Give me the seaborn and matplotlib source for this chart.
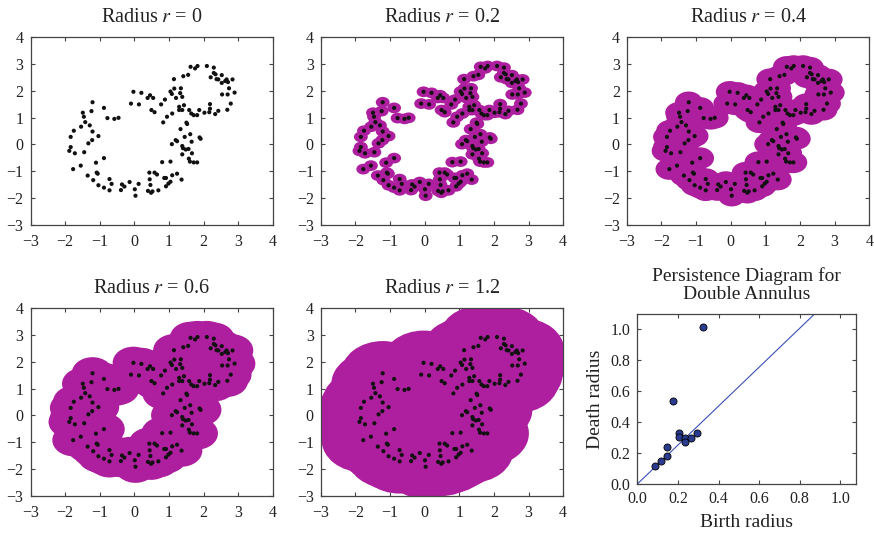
import numpy as np
import pandas as pd
import matplotlib
matplotlib.use("Agg")
import matplotlib.pyplot as plt
import seaborn as sns
from matplotlib.patches import Ellipse
from matplotlib.collections import PatchCollection

# ---------------- data ----------------
pts_x = [-1.84, -1.75, -1.84, -1.88, -1.72, -1.77, -1.54, -1.49, -1.46, -1.42,
         -1.29, -1.21, -1.21, -1.24, -1.04, -1.22, -1.33, -1.45, -1.55, -1.11,
         -0.88, -1.35, -1.09, -1.06, -1.19, -1.04, -0.88, -0.72, -0.66, -0.72,
         -0.88, -0.78, -0.58, -0.46, -0.39, -0.36, -0.29, -0.14, 0.01, 0.03,
         0.12, -0.03, 0.20, -0.10, 0.13, 0.38, 0.45, 0.54, 0.49, 0.58,
         0.39, 0.48, 0.52, 0.46, 0.44, 0.43, 0.58, 0.65, 0.69, 0.86,
         0.91, 0.91, 0.98, 1.04, 1.09, 1.23, 1.36, 0.80, 1.04,
         0.83, 0.94, 1.09, 0.77, 0.88, 1.04, 1.08, 1.14, 1.15, 1.20,
         1.32, 1.34, 1.38, 1.29, 1.29, 1.38, 1.43, 1.41, 1.55, 1.58,
         1.64, 1.71, 1.81, 1.87, 2.02, 2.16, 2.18, 2.18, 2.33, 2.42,
         2.68, 1.62, 1.75, 1.82, 2.09, 2.29, 2.20, 2.29, 2.34, 2.37,
         2.42, 2.52, 2.52, 2.62, 2.66, 2.70, 2.83, 2.73, 2.53, 2.69,
         2.89, 2.78, 1.50, 1.52, 1.33, 1.45, 1.61, 1.88, 1.91, 1.19,
         1.23, 1.08, 1.38, 1.40, 1.48, 1.38, 1.56, 1.65, 1.66, 1.57,
         1.60, 1.71, 1.81]
pts_y = [0.28, 0.51, -0.10, -0.24, -0.33, -0.92, 0.66, 1.18, 1.03, 0.83,
         0.71, 0.48, 1.57, 1.24, 0.31, 0.16, 0.04, -0.29, -0.79, -0.68,
         -0.51, -1.16, -1.05, -1.09, -1.33, -1.52, -1.61, -1.29, -1.47, -1.71,
         1.36, 0.98, 0.95, 0.99, -1.70, -1.49, -1.57, -1.40, -1.67, -1.91,
         -1.47, 1.96, 1.92, 1.52, 1.49, 1.73, 1.83, 1.73, 1.28, 1.20,
         -1.73, -1.80, -1.75, -1.51, -1.30, -1.05, -1.05, -1.12, -1.71, -1.25,
         -1.25, -1.56, -1.46, -1.39, -1.15, -1.09, -1.31, -0.66, -0.64,
         0.82, 1.03, 1.15, 1.49, 1.67, 1.97, 1.88, 2.43, 2.08, 1.73,
         1.91, 2.09, 1.77, 1.40, 1.28, 1.28, 1.46, 2.54, 2.59, 1.28,
         1.15, 1.09, 1.09, 1.28, 1.18, 1.20, 1.50, 1.33, 1.13, 1.25,
         1.29, 2.89, 2.83, 2.92, 2.92, 2.86, 2.50, 2.66, 2.61, 2.43,
         2.42, 2.58, 2.29, 2.36, 2.42, 2.32, 2.42, 2.09, 1.86, 1.86,
         1.93, 1.52, 0.81, 0.76, 0.57, 0.28, 0.38, 0.26, 0.21, 0.16,
         0.12, 0.01, -0.06, -0.14, -0.19, -0.37, -0.17, 0.10, -0.33, -0.53,
         -0.64, -0.67, -0.67]

radii = [0, 0.2, 0.4, 0.6, 1.2]
radius_labels = ["0", "0.2", "0.4", "0.6", "1.2"]

birth = [0.089, 0.115, 0.146, 0.146, 0.176, 0.204, 0.204, 0.235, 0.235, 0.265, 0.293, 0.324]
death = [0.119, 0.149, 0.179, 0.239, 0.539, 0.332, 0.302, 0.300, 0.269, 0.300, 0.330, 1.019]
diag_x = [0.0, 0.873]
diag_y = [0.0, 1.1]

ticks_xy = [-3, -2, -1, 0, 1, 2, 3, 4]
ticks_pd = [0.0, 0.2, 0.4, 0.6, 0.8, 1.0]

# ---------------- style ----------------
sns.set_theme(style="ticks")
plt.rcParams['font.family'] = ['Liberation Serif', 'DejaVu Serif']
plt.rcParams['mathtext.fontset'] = 'stix'
plt.rcParams['axes.unicode_minus'] = True

MAGENTA = '#AD1F9E'
SPINE = '#444444'
TXT = '#222222'

df = pd.DataFrame({'x': pts_x, 'y': pts_y})
pd_df = pd.DataFrame({'birth': birth, 'death': death})

fig = plt.figure(figsize=(8.74, 5.33), dpi=100)

W = 0.2775
H = 0.3527
positions = [
    [0.0349, 0.5779, W, H],
    [0.3669, 0.5779, W, H],
    [0.7171, 0.5779, W, H],
    [0.0349, 0.0694, W, H],
    [0.3669, 0.0694, W, H],
]


def style_axes(ax, xpad=6.5, ypad=5.0):
    for s in ax.spines.values():
        s.set_color(SPINE)
        s.set_linewidth(0.9)
    ax.tick_params(direction='in', length=3, width=0.8, color=SPINE,
                   top=True, right=True, labelsize=11.5, labelcolor=TXT)
    ax.tick_params(axis='x', pad=xpad)
    ax.tick_params(axis='y', pad=ypad)


for pos, r, lab in zip(positions, radii, radius_labels):
    ax = fig.add_axes(pos)
    if r > 0:
        patches = [Ellipse((x, y), 2 * r, 2 * r) for x, y in zip(pts_x, pts_y)]
        pc = PatchCollection(patches, facecolor=MAGENTA, edgecolor='none', zorder=1)
        ax.add_collection(pc)
    sns.scatterplot(data=df, x='x', y='y', ax=ax, color='#111111', s=9,
                    edgecolor='none', zorder=3, legend=False)
    ax.set_xlim(-3, 4)
    ax.set_ylim(-3, 4)
    ax.set_xticks(ticks_xy)
    ax.set_yticks(ticks_xy)
    ax.set_xlabel('')
    ax.set_ylabel('')
    ax.set_title(r'Radius $r$ = ' + lab, fontsize=14.5, pad=11, color=TXT)
    style_axes(ax)

# persistence diagram
ax = fig.add_axes([0.7292, 0.0919, 0.2502, 0.3190])
sns.lineplot(x=diag_x, y=diag_y, ax=ax, color='#3B4FB5', linewidth=0.8, zorder=1)
sns.scatterplot(data=pd_df, x='birth', y='death', ax=ax, color='#2B3C8E',
                edgecolor='black', linewidth=0.6, s=26, zorder=3, legend=False)
ax.set_xlim(0, 1.077)
ax.set_ylim(0, 1.1)
ax.set_xticks(ticks_pd)
ax.set_yticks(ticks_pd)
ax.set_xticklabels([f'{t:.1f}' for t in ticks_pd])
ax.set_yticklabels([f'{t:.1f}' for t in ticks_pd])
ax.set_xlabel('Birth radius', fontsize=14, color=TXT, labelpad=5)
ax.set_ylabel('Death radius', fontsize=14, color=TXT, labelpad=5)
ax.set_title('Persistence Diagram for\nDouble Annulus', fontsize=14,
             pad=11, color=TXT, linespacing=1.05)
style_axes(ax, xpad=5.0, ypad=5.0)

fig.savefig('out.png', dpi=100)
